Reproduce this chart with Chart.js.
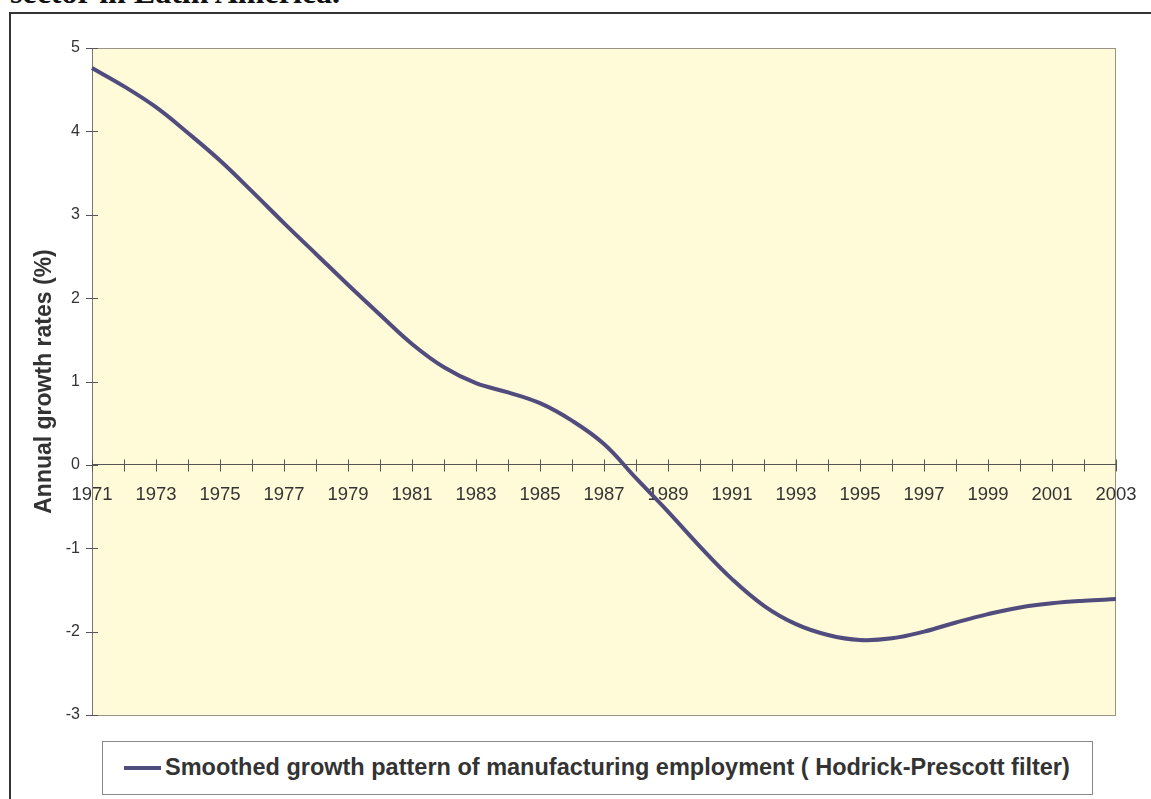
<!DOCTYPE html>
<html>
<head>
<meta charset="utf-8">
<script src="https://cdn.jsdelivr.net/npm/chart.js@4.4.1/dist/chart.umd.min.js"></script>
<style>
  html, body { margin: 0; padding: 0; background: #fff; overflow: hidden; }
  #wrap { position: relative; width: 1151px; height: 799px; }
  #heading { position: absolute; left: 10px; top: -24px; font: bold 32px "Liberation Serif", "Times New Roman", serif; color: #111; white-space: nowrap; line-height: 32px; }
  #frame { position: absolute; left: 9px; top: 12px; width: 1200px; height: 900px; border: 2px solid #333; box-sizing: border-box; }
  #chartBox { position: absolute; left: 0; top: 0; width: 1151px; height: 799px; }
  #legend { position: absolute; left: 102px; top: 741px; width: 991px; height: 54px; border: 1px solid #888; box-sizing: border-box; background: #fff; font: bold 23.5px "Liberation Sans", Arial, sans-serif; color: #333; }
  #legend .swatch { position: absolute; left: 21px; top: 24px; width: 37px; height: 4px; }
  #legend .txt { position: absolute; left: 62px; top: 11px; line-height: 28px; white-space: nowrap; }
</style>
</head>
<body>
<div id="wrap">
  <div id="heading">sector in Latin America.</div>
  <div id="frame"></div>
  <div id="chartBox"><canvas id="grafico" width="1151" height="799"></canvas></div>
  <div id="legend"></div>
</div>
<script>
var years = ['1971', '1972', '1973', '1974', '1975', '1976', '1977', '1978', '1979', '1980',
             '1981', '1982', '1983', '1984', '1985', '1986', '1987', '1988', '1989', '1990',
             '1991', '1992', '1993', '1994', '1995', '1996', '1997', '1998', '1999', '2000',
             '2001', '2002', '2003'];
var smoothedGrowth = [4.76, 4.54, 4.29, 3.98, 3.65, 3.28, 2.90, 2.53, 2.16, 1.80,
                      1.45, 1.17, 0.98, 0.87, 0.74, 0.53, 0.25, -0.16, -0.56, -0.98,
                      -1.37, -1.69, -1.91, -2.04, -2.10, -2.08, -2.00, -1.89, -1.79, -1.71,
                      -1.66, -1.63, -1.61];
var seriesLabel = 'Smoothed growth pattern of manufacturing employment ( Hodrick-Prescott filter)';
var yTitle = 'Annual growth rates (%)';
var yMin = -3, yMax = 5, yStep = 1;

Chart.defaults.font.family = '"Liberation Sans", Arial, sans-serif';
Chart.defaults.color = '#333';

// fondo del area y marcas cruzadas en los ejes
var plotDecor = {
    id: 'plotDecor',
    beforeDraw: function (chart) {
        var ctx = chart.ctx, a = chart.chartArea;
        ctx.save();
        ctx.fillStyle = '#FFFAD7';
        ctx.fillRect(a.left, a.top, a.right - a.left, a.bottom - a.top);
        ctx.strokeStyle = '#9a9286';
        ctx.lineWidth = 1;
        ctx.strokeRect(a.left + 0.5, a.top + 0.5, a.right - a.left - 1, a.bottom - a.top);
        ctx.restore();
    },
    beforeDatasetsDraw: function (chart) {
        var ctx = chart.ctx, a = chart.chartArea;
        var xs = chart.scales.x, ys = chart.scales.y;
        var y0 = Math.round(ys.getPixelForValue(0)) + 0.5;
        ctx.save();
        ctx.strokeStyle = '#555';
        ctx.lineWidth = 1;
        ctx.beginPath();
        xs.ticks.forEach(function (t, i) {
            var px = Math.round(xs.getPixelForTick(i)) + 0.5;
            ctx.moveTo(px, y0 - 6);
            ctx.lineTo(px, y0 + 6);
        });
        ys.ticks.forEach(function (t, i) {
            var py = Math.round(ys.getPixelForTick(i)) + 0.5;
            ctx.moveTo(a.left - 6, py);
            ctx.lineTo(a.left + 6, py);
        });
        ctx.stroke();
        ctx.restore();
    }
};

var ctx = document.getElementById('grafico').getContext('2d');
var myChart = new Chart(ctx, {
    type: 'line',
    data: {
        labels: years,
        datasets: [{
            label: seriesLabel,
            data: smoothedGrowth,
            borderColor: '#514C7E',
            borderWidth: 4,
            pointRadius: 0,
            tension: 0.4,
            fill: false
        }]
    },
    options: {
        responsive: false,
        animation: false,
        layout: { padding: { left: 0, top: 48, right: 35, bottom: 84 } },
        plugins: {
            legend: { display: false },
            tooltip: { enabled: false }
        },
        scales: {
            x: {
                type: 'category',
                position: { y: 0 },
                offset: false,
                grid: { drawOnChartArea: false, drawTicks: false },
                border: { color: '#555', width: 1 },
                ticks: {
                    autoSkip: false,
                    maxRotation: 0,
                    padding: 19,
                    font: { size: 18.5 },
                    color: '#333',
                    callback: function (v, i) { return i % 2 === 0 ? this.getLabelForValue(v) : ''; }
                },
                afterFit: function (scale) { scale.paddingLeft = 0; scale.paddingRight = 0; }
            },
            y: {
                min: yMin,
                max: yMax,
                grid: { drawOnChartArea: false, drawTicks: false },
                border: { color: '#777', width: 1 },
                ticks: { stepSize: yStep, padding: 12, font: { size: 16 }, color: '#333' },
                title: {
                    display: true,
                    text: yTitle,
                    color: '#333',
                    font: { size: 23, weight: 'bold' },
                    padding: { top: 31, bottom: 0 }
                },
                afterFit: function (scale) { scale.width = 92; }
            }
        }
    },
    plugins: [plotDecor]
});

// leyenda en HTML a partir del dataset
var ds = myChart.data.datasets[0];
document.getElementById('legend').innerHTML =
    '<span class="swatch" style="background:' + ds.borderColor + '"></span>' +
    '<span class="txt">' + ds.label + '</span>';
</script>
</body>
</html>
